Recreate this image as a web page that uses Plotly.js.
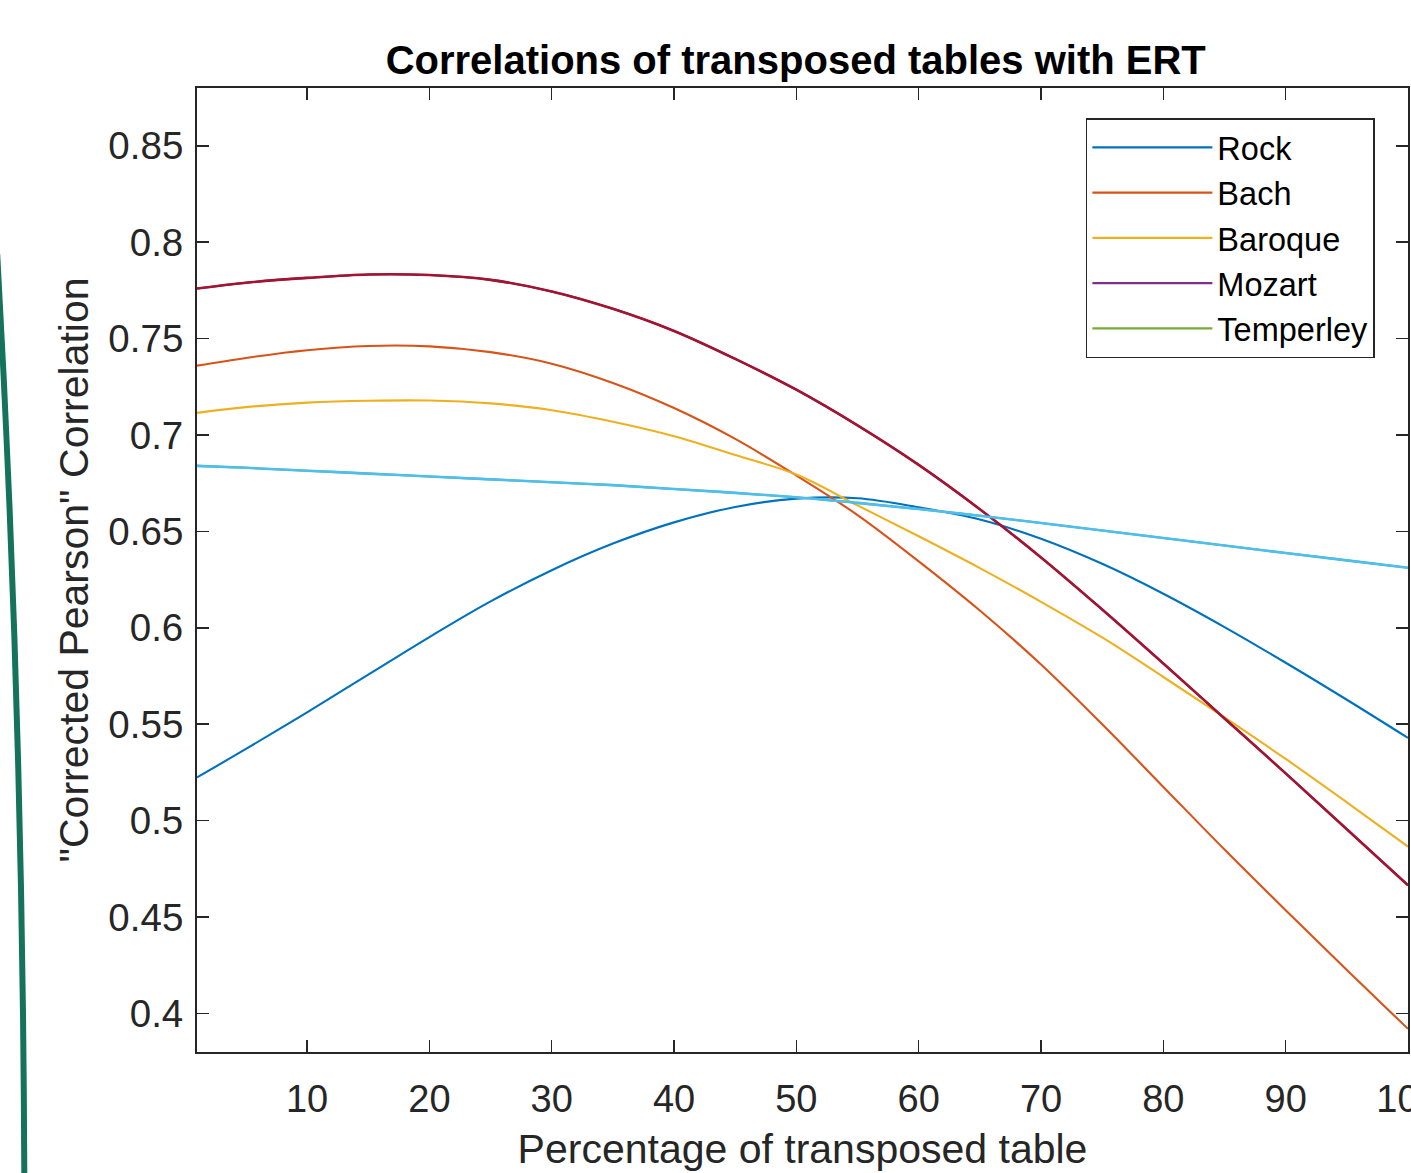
<!DOCTYPE html>
<html>
<head>
<meta charset="utf-8">
<script src="https://cdn.plot.ly/plotly-3.0.1.min.js"></script>
<style>
  html, body { margin: 0; padding: 0; background: #ffffff; }
  #chart { width: 1411px; height: 1173px; }
</style>
</head>
<body>
<div id="chart"></div>
<script>
// ---- data ----
const percent = [1, 5, 10, 15, 20, 25, 30, 35, 40, 45, 50, 55, 60, 65, 70, 75, 80, 85, 90, 95, 100];

const rock      = [0.5224, 0.5372, 0.5562, 0.5757, 0.5952, 0.6137, 0.6299, 0.6437, 0.6547, 0.6627, 0.6670, 0.6672, 0.6625, 0.6562, 0.6462, 0.6332, 0.6177, 0.6004, 0.5819, 0.5627, 0.5429];
const bach      = [0.736, 0.740, 0.744, 0.7462, 0.7460, 0.743, 0.737, 0.727, 0.714, 0.698, 0.679, 0.6585, 0.6345, 0.609, 0.581, 0.550, 0.5175, 0.485, 0.4535, 0.4225, 0.392];
const baroque   = [0.7115, 0.7145, 0.7168, 0.7178, 0.7179, 0.7164, 0.7129, 0.7069, 0.6994, 0.6896, 0.6795, 0.6635, 0.6475, 0.631, 0.6135, 0.595, 0.5745, 0.5535, 0.532, 0.5095, 0.4865];
const mozart    = [0.776, 0.779, 0.7815, 0.7833, 0.783, 0.7805, 0.7745, 0.7655, 0.754, 0.7395, 0.7235, 0.7050, 0.6845, 0.6615, 0.6365, 0.6095, 0.5815, 0.5530, 0.5245, 0.4955, 0.4665];
const temperley = [0.684, 0.683, 0.6815, 0.680, 0.6785, 0.677, 0.6755, 0.674, 0.672, 0.670, 0.6677, 0.6648, 0.6616, 0.6581, 0.6544, 0.6505, 0.6466, 0.6427, 0.6388, 0.6350, 0.6312];

const seriesNames = ['Rock', 'Bach', 'Baroque', 'Mozart', 'Temperley'];
const xTicks = [10, 20, 30, 40, 50, 60, 70, 80, 90, 100];
const yTicks = [0.4, 0.45, 0.5, 0.55, 0.6, 0.65, 0.7, 0.75, 0.8, 0.85];
const yTickText = ['0.4', '0.45', '0.5', '0.55', '0.6', '0.65', '0.7', '0.75', '0.8', '0.85'];

const chartTitle = 'Correlations of transposed tables with ERT';
const xTitle = 'Percentage of transposed table';
const yTitle = '"Corrected Pearson" Correlation';

// ---- styling ----
const legendColors = ['#0072BD', '#D95319', '#EDB120', '#7E2F8E', '#77AC30'];
const plottedColors = { Mozart: '#A2142F', Temperley: '#4DBEEE' };
const axisColor = '#262626';
const FONT = '"Liberation Sans", Arial, Helvetica, sans-serif';

const seriesData = [rock, bach, baroque, mozart, temperley];

const traces = seriesData.map((vals, i) => ({
  type: 'scatter',
  mode: 'lines',
  name: seriesNames[i],
  x: percent,
  y: vals,
  line: { color: legendColors[i], width: 2.1, shape: 'spline', smoothing: 1 }
}));

// the curves as they appear in the plot for Mozart and Temperley
traces.push({
  type: 'scatter', mode: 'lines', name: 'Mozart', showlegend: false,
  x: percent, y: mozart,
  line: { color: plottedColors.Mozart, width: 2.6, shape: 'spline', smoothing: 1 }
});
traces.push({
  type: 'scatter', mode: 'lines', name: 'Temperley', showlegend: false,
  x: percent, y: temperley,
  line: { color: plottedColors.Temperley, width: 2.6, shape: 'spline', smoothing: 1 }
});

const layout = {
  width: 1411,
  height: 1173,
  margin: { l: 197, r: 3, t: 88, b: 121, pad: 0 },
  paper_bgcolor: '#ffffff',
  plot_bgcolor: '#ffffff',
  font: { family: FONT, color: axisColor },
  showlegend: true,
  title: {
    text: '<b>' + chartTitle + '</b>',
    font: { family: FONT, size: 40, color: '#000000' },
    x: 0.4944, xref: 'paper', xanchor: 'center',
    y: 1 - 60 / 1173, yref: 'container', yanchor: 'middle'
  },
  xaxis: {
    range: [1, 100],
    tickmode: 'array',
    tickvals: xTicks,
    ticktext: xTicks.map(String),
    ticks: 'inside', ticklen: 12, tickwidth: 1.5, tickcolor: axisColor,
    showline: true, linecolor: axisColor, linewidth: 2, mirror: 'ticks',
    showgrid: false, zeroline: false,
    ticklabeloverflow: 'allow',
    ticklabelstandoff: 12,
    tickfont: { family: FONT, size: 38, color: axisColor },
    title: { text: xTitle, font: { family: FONT, size: 41, color: axisColor }, standoff: 16 }
  },
  yaxis: {
    range: [0.38, 0.88],
    tickmode: 'array',
    tickvals: yTicks,
    ticktext: yTickText,
    ticks: 'inside', ticklen: 12, tickwidth: 1.5, tickcolor: axisColor,
    showline: true, linecolor: axisColor, linewidth: 2, mirror: 'ticks',
    showgrid: false, zeroline: false,
    ticklabeloverflow: 'allow',
    ticklabelstandoff: 4,
    tickfont: { family: FONT, size: 38.5, color: axisColor },
    title: { text: yTitle, font: { family: FONT, size: 41, color: axisColor }, standoff: 7 }
  },
  legend: {
    x: 0.734, y: 0.9686, xanchor: 'left', yanchor: 'top',
    bgcolor: '#ffffff', bordercolor: axisColor, borderwidth: 1.5,
    font: { family: FONT, size: 32.5, color: '#000000' },
    itemwidth: 120,
    tracegroupgap: 0
  },
  shapes: [{
    type: 'path', xref: 'paper', yref: 'paper', layer: 'above',
    path: 'M -0.1650,0.8280 Q -0.1440,0.3600 -0.1426,-0.1300',
    line: { color: '#14735A', width: 6 }
  }]
};

Plotly.newPlot('chart', traces, layout, { displayModeBar: false, staticPlot: true });
</script>
</body>
</html>
